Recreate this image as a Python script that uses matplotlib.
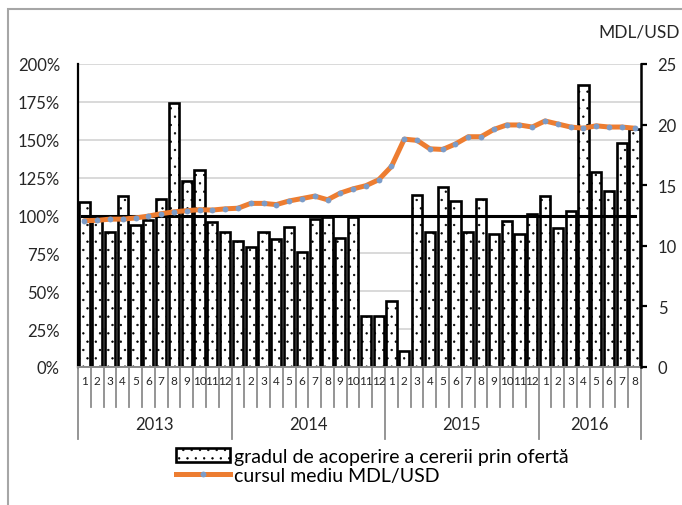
import matplotlib
matplotlib.use("Agg")
import matplotlib.pyplot as plt
from matplotlib.lines import Line2D
from matplotlib.patches import Patch, Rectangle
import numpy as np

plt.rcParams['font.family'] = ['Lato', 'DejaVu Sans']
plt.rcParams['hatch.linewidth'] = 0.45

years = ['2013', '2014', '2015', '2016']
months_per_year = [12, 12, 12, 8]
month_labels = [str(m) for n in months_per_year for m in range(1, n + 1)]

coverage = [109, 97, 89, 113, 94, 97, 111, 174, 123, 130, 96, 89,
            83, 79, 89, 84.5, 92.6, 76, 98, 99, 85, 99, 33.5, 33.5,
            43.8, 10.8, 113.8, 89, 118.6, 109.6, 89, 111, 88, 96.6, 88, 101,
            113, 91.7, 103, 186, 128.5, 116.4, 148, 157]

rate = [12.07, 12.1, 12.2, 12.2, 12.3, 12.45, 12.65, 12.8, 12.9, 12.98, 12.95, 13.05,
        13.1, 13.5, 13.5, 13.4, 13.7, 13.9, 14.1, 13.8, 14.35, 14.7, 14.96, 15.45,
        16.55, 18.8, 18.7, 18.0, 17.95, 18.4, 19.0, 19.0, 19.6, 19.97, 19.97, 19.8,
        20.3, 20.05, 19.8, 19.7, 19.9, 19.8, 19.8, 19.7]

reference_level = 100

left_ticks = [0, 25, 50, 75, 100, 125, 150, 175, 200]
right_ticks = [0, 5, 10, 15, 20, 25]

bar_label = 'gradul de acoperire a cererii prin ofertă'
line_label = 'cursul mediu MDL/USD'
right_title = 'MDL/USD'

ORANGE = '#ED7D31'
BLUE = '#7C9CC8'
GRID = '#D9D9D9'
SEP = '#8C8C8C'
TXT = '#262626'

fig = plt.figure(figsize=(6.82, 5.06), dpi=100)
ax = fig.add_axes([78/682, 1-368/506, (641-78)/682, (368-65)/506])
ax2 = ax.twinx()

n = len(coverage)
x = np.arange(n)

ax.set_zorder(1)
ax.patch.set_visible(False)
ax2.set_zorder(2)
ax2.patch.set_visible(False)

ax.bar(x, coverage, width=0.8, color='white', edgecolor='black',
       linewidth=1.9, hatch='..', zorder=2)
ax.plot([x[0] - 0.2, x[-1]], [reference_level, reference_level],
        color='black', lw=2.2, zorder=3)

ax.set_xlim(-0.5, n - 0.5)
ax.set_ylim(0, 200)
ax.set_yticks(left_ticks)
ax.set_yticklabels([f'{t}%' for t in left_ticks], fontsize=12, color=TXT)
ax.tick_params(axis='y', length=0, pad=13)
for t in left_ticks[1:]:
    ax.axhline(t, color=GRID, lw=1.4, zorder=0)

ax.set_xticks(x)
ax.set_xticklabels(month_labels, fontsize=8.5, color=TXT)
ax.tick_params(axis='x', length=0, pad=6)

for s in ['top', 'right']:
    ax.spines[s].set_visible(False)
ax.spines['left'].set_color('black')
ax.spines['left'].set_linewidth(1.6)
ax.spines['bottom'].set_color(SEP)
ax.spines['bottom'].set_linewidth(1.4)

trans = ax.get_xaxis_transform()
boundaries = np.arange(n + 1) - 0.5
year_starts = np.cumsum([0] + months_per_year)
for b_idx, b in enumerate(boundaries):
    y_end = -0.238 if b_idx in year_starts else -0.132
    ax.plot([b, b], [0, y_end], color=SEP, lw=1.3, transform=trans,
            clip_on=False, zorder=1)
for i, yr in enumerate(years):
    center = (year_starts[i] + year_starts[i + 1] - 1) / 2
    ax.text(center, -0.188, yr, transform=trans, ha='center', va='center',
            fontsize=12, color=TXT)

ax2.plot(x, rate, color=ORANGE, lw=3.6, zorder=4, solid_capstyle='round')
ax2.plot(x, rate, linestyle='none', marker='o', markersize=4.2,
         color=BLUE, markeredgewidth=0, zorder=5)
ax2.set_ylim(0, 25)
ax2.set_yticks(right_ticks)
ax2.set_yticklabels([str(t) for t in right_ticks], fontsize=12, color=TXT)
ax2.tick_params(axis='y', length=4, width=1.6, color='black', pad=8)
for s in ['top', 'left', 'bottom']:
    ax2.spines[s].set_visible(False)
ax2.spines['right'].set_color('black')
ax2.spines['right'].set_linewidth(1.8)

fig.text(639/682, 1-32/506, right_title, ha='center', va='center',
         fontsize=12.5, color=TXT)

handles = [Patch(facecolor='white', edgecolor='black', hatch='..', linewidth=1.9),
           Line2D([0], [0], color=ORANGE, lw=3.6, marker='o', markersize=4.2,
                  markerfacecolor=BLUE, markeredgewidth=0)]
fig.legend(handles, [bar_label, line_label], loc='upper left',
           bbox_to_anchor=(176/682, 1-449/506), frameon=False, fontsize=14,
           handlelength=2.8, handleheight=0.7, handletextpad=0.2,
           labelspacing=0.1, borderpad=0, borderaxespad=0)

fig.patches.append(Rectangle((8/682, -0.1), 1.2, 1 - 10/506 + 0.1,
                             transform=fig.transFigure, fill=False,
                             edgecolor='#A6A6A6', lw=1.5, zorder=0))

fig.savefig('out.png', dpi=100)
